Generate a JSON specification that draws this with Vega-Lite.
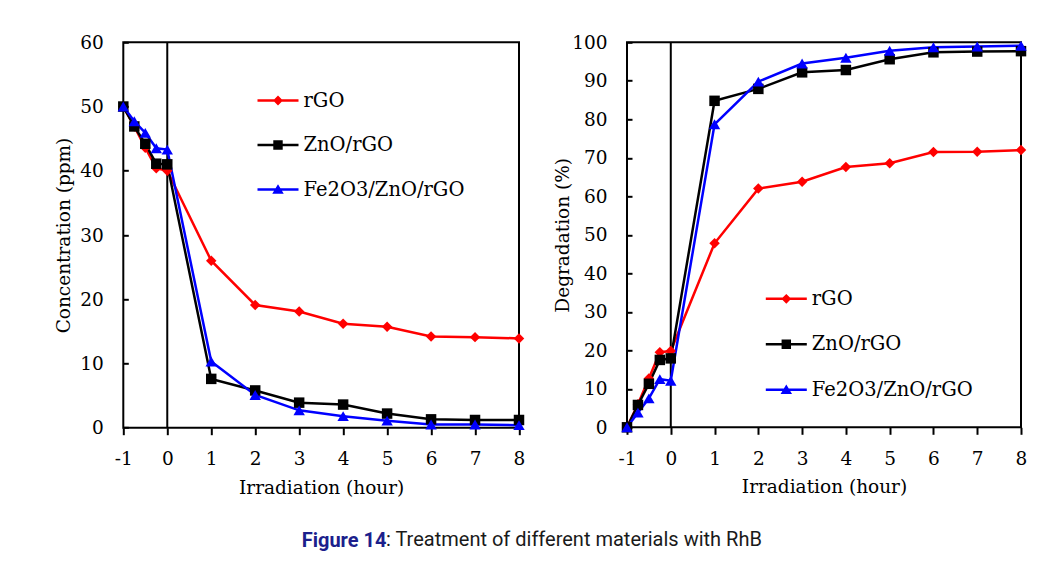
{
  "$schema": "https://vega.github.io/schema/vega-lite/v6.json",
  "autosize": {"type": "none"},
  "padding": {"left": 123.3, "top": 42.3, "right": 917.7, "bottom": 519.7},
  "background": "white",
  "bounds": "flush",
  "spacing": 107.7,
  "datasets": {
    "conc": [
      {"hour": -1, "material": "rGO", "value": 50},
      {"hour": -0.75, "material": "rGO", "value": 46.9},
      {"hour": -0.5, "material": "rGO", "value": 43.6},
      {"hour": -0.25, "material": "rGO", "value": 40.4},
      {"hour": 0, "material": "rGO", "value": 40.0},
      {"hour": 1, "material": "rGO", "value": 26.0},
      {"hour": 2, "material": "rGO", "value": 19.1},
      {"hour": 3, "material": "rGO", "value": 18.1},
      {"hour": 4, "material": "rGO", "value": 16.2},
      {"hour": 5, "material": "rGO", "value": 15.7},
      {"hour": 6, "material": "rGO", "value": 14.2},
      {"hour": 7, "material": "rGO", "value": 14.1},
      {"hour": 8, "material": "rGO", "value": 13.9},
      {"hour": -1, "material": "ZnO/rGO", "value": 50},
      {"hour": -0.75, "material": "ZnO/rGO", "value": 46.9},
      {"hour": -0.5, "material": "ZnO/rGO", "value": 44.2},
      {"hour": -0.25, "material": "ZnO/rGO", "value": 41.1},
      {"hour": 0, "material": "ZnO/rGO", "value": 41.0},
      {"hour": 1, "material": "ZnO/rGO", "value": 7.6},
      {"hour": 2, "material": "ZnO/rGO", "value": 5.8},
      {"hour": 3, "material": "ZnO/rGO", "value": 3.9},
      {"hour": 4, "material": "ZnO/rGO", "value": 3.6},
      {"hour": 5, "material": "ZnO/rGO", "value": 2.2},
      {"hour": 6, "material": "ZnO/rGO", "value": 1.3},
      {"hour": 7, "material": "ZnO/rGO", "value": 1.2},
      {"hour": 8, "material": "ZnO/rGO", "value": 1.2},
      {"hour": -1, "material": "Fe2O3/ZnO/rGO", "value": 50},
      {"hour": -0.75, "material": "Fe2O3/ZnO/rGO", "value": 47.7},
      {"hour": -0.5, "material": "Fe2O3/ZnO/rGO", "value": 45.9},
      {"hour": -0.25, "material": "Fe2O3/ZnO/rGO", "value": 43.5},
      {"hour": 0, "material": "Fe2O3/ZnO/rGO", "value": 43.3},
      {"hour": 1, "material": "Fe2O3/ZnO/rGO", "value": 10.3},
      {"hour": 2, "material": "Fe2O3/ZnO/rGO", "value": 5.1},
      {"hour": 3, "material": "Fe2O3/ZnO/rGO", "value": 2.7},
      {"hour": 4, "material": "Fe2O3/ZnO/rGO", "value": 1.8},
      {"hour": 5, "material": "Fe2O3/ZnO/rGO", "value": 1.1},
      {"hour": 6, "material": "Fe2O3/ZnO/rGO", "value": 0.5},
      {"hour": 7, "material": "Fe2O3/ZnO/rGO", "value": 0.5},
      {"hour": 8, "material": "Fe2O3/ZnO/rGO", "value": 0.4}
    ],
    "deg": [
      {"hour": -1, "material": "rGO", "value": 0},
      {"hour": -0.75, "material": "rGO", "value": 6.0},
      {"hour": -0.5, "material": "rGO", "value": 12.7},
      {"hour": -0.25, "material": "rGO", "value": 19.5},
      {"hour": 0, "material": "rGO", "value": 19.8},
      {"hour": 1, "material": "rGO", "value": 47.8},
      {"hour": 2, "material": "rGO", "value": 62.0},
      {"hour": 3, "material": "rGO", "value": 63.8},
      {"hour": 4, "material": "rGO", "value": 67.6},
      {"hour": 5, "material": "rGO", "value": 68.6},
      {"hour": 6, "material": "rGO", "value": 71.5},
      {"hour": 7, "material": "rGO", "value": 71.6},
      {"hour": 8, "material": "rGO", "value": 72.0},
      {"hour": -1, "material": "ZnO/rGO", "value": 0},
      {"hour": -0.75, "material": "ZnO/rGO", "value": 5.8},
      {"hour": -0.5, "material": "ZnO/rGO", "value": 11.3},
      {"hour": -0.25, "material": "ZnO/rGO", "value": 17.5},
      {"hour": 0, "material": "ZnO/rGO", "value": 17.9},
      {"hour": 1, "material": "ZnO/rGO", "value": 84.8},
      {"hour": 2, "material": "ZnO/rGO", "value": 87.9},
      {"hour": 3, "material": "ZnO/rGO", "value": 92.2},
      {"hour": 4, "material": "ZnO/rGO", "value": 92.8},
      {"hour": 5, "material": "ZnO/rGO", "value": 95.6},
      {"hour": 6, "material": "ZnO/rGO", "value": 97.4},
      {"hour": 7, "material": "ZnO/rGO", "value": 97.6},
      {"hour": 8, "material": "ZnO/rGO", "value": 97.7},
      {"hour": -1, "material": "Fe2O3/ZnO/rGO", "value": 0},
      {"hour": -0.75, "material": "Fe2O3/ZnO/rGO", "value": 3.8},
      {"hour": -0.5, "material": "Fe2O3/ZnO/rGO", "value": 7.5},
      {"hour": -0.25, "material": "Fe2O3/ZnO/rGO", "value": 12.5},
      {"hour": 0, "material": "Fe2O3/ZnO/rGO", "value": 12.1},
      {"hour": 1, "material": "Fe2O3/ZnO/rGO", "value": 78.7},
      {"hour": 2, "material": "Fe2O3/ZnO/rGO", "value": 89.8},
      {"hour": 3, "material": "Fe2O3/ZnO/rGO", "value": 94.5},
      {"hour": 4, "material": "Fe2O3/ZnO/rGO", "value": 96.0},
      {"hour": 5, "material": "Fe2O3/ZnO/rGO", "value": 97.8},
      {"hour": 6, "material": "Fe2O3/ZnO/rGO", "value": 98.7},
      {"hour": 7, "material": "Fe2O3/ZnO/rGO", "value": 98.9},
      {"hour": 8, "material": "Fe2O3/ZnO/rGO", "value": 99.1}
    ]
  },
  "resolve": {
    "scale": {"x": "independent", "y": "independent", "color": "independent", "shape": "independent"},
    "legend": {"color": "independent", "shape": "independent"}
  },
  "hconcat": [
    {
      "width": 395.7,
      "height": 385.4,
      "title": {"text": "Figure 14", "orient": "bottom", "anchor": "start", "frame": "group", "dx": 178.4, "offset": 34, "font": "Roboto", "fontSize": 20, "fontWeight": "bold", "color": "#1c1f8c"},
      "data": {"name": "conc"},
      "layer": [
        {
          "data": {"values": [{}]},
          "mark": {"type": "rule", "color": "#000000", "strokeWidth": 2},
          "encoding": {"x": {"datum": 0, "type": "quantitative", "scale": {"domain": [-1, 8], "nice": false, "zero": false}}}
        },
        {
          "encoding": {
            "x": {"field": "hour", "type": "quantitative", "scale": {"domain": [-1, 8], "nice": false, "zero": false},
                  "axis": {"title": "Irradiation (hour)", "values": [-1, 0, 1, 2, 3, 4, 5, 6, 7, 8], "labelExpr": "'' + datum.value", "labelOverlap": false}},
            "y": {"field": "value", "type": "quantitative", "scale": {"domain": [0, 60], "nice": false},
                  "axis": {"title": "Concentration (ppm)", "values": [0, 10, 20, 30, 40, 50, 60], "labelOverlap": false, "titlePadding": 6.5}}
          },
          "layer": [
            {
              "mark": {"type": "line", "strokeWidth": 2.5},
              "encoding": {
                "color": {"field": "material", "type": "nominal",
                          "scale": {"domain": ["rGO", "ZnO/rGO", "Fe2O3/ZnO/rGO"], "range": ["#ff0000", "#000000", "#0000ff"]},
                          "legend": {"orient": "none", "legendX": 134.2, "legendY": 37.7}}
              }
            },
            {
              "mark": {"type": "point", "filled": true, "opacity": 0},
              "encoding": {
                "color": {"field": "material", "type": "nominal",
                          "legend": {"orient": "none", "legendX": 134.2, "legendY": 37.7}},
                "shape": {"field": "material", "type": "nominal",
                          "scale": {"domain": ["rGO", "ZnO/rGO", "Fe2O3/ZnO/rGO"],
                                    "range": ["M-1,-0.061L1,-0.061L1,0.061L-1,0.061ZM0,-0.24L0.24,0L0,0.24L-0.24,0Z",
                                              "M-1,-0.061L1,-0.061L1,0.061L-1,0.061ZM-0.23,-0.23L0.23,-0.23L0.23,0.23L-0.23,0.23Z",
                                              "M-1,-0.061L1,-0.061L1,0.061L-1,0.061ZM0,-0.26L0.28,0.21L-0.28,0.21Z"]},
                          "legend": {"orient": "none", "legendX": 134.2, "legendY": 37.7}}
              }
            },
            {
              "transform": [{"filter": "datum.material === 'rGO'"}],
              "mark": {"type": "point", "shape": "diamond", "filled": true, "opacity": 1, "size": 110, "color": "#ff0000"},
              "encoding": {}
            },
            {
              "transform": [{"filter": "datum.material === 'ZnO/rGO'"}],
              "mark": {"type": "point", "shape": "square", "filled": true, "opacity": 1, "size": 110, "color": "#000000"},
              "encoding": {}
            },
            {
              "transform": [{"filter": "datum.material === 'Fe2O3/ZnO/rGO'"}],
              "mark": {"type": "point", "shape": "triangle-up", "filled": true, "opacity": 1, "size": 130, "color": "#0000ff"},
              "encoding": {}
            }
          ]
        }
      ]
    },
    {
      "width": 394,
      "height": 385,
      "title": {"text": ": Treatment of different materials with RhB", "orient": "bottom", "anchor": "start", "frame": "group", "dx": -241, "offset": 34, "font": "Roboto", "fontSize": 20, "fontWeight": "normal", "color": "#1a1a1a"},
      "data": {"name": "deg"},
      "layer": [
        {
          "data": {"values": [{}]},
          "mark": {"type": "rule", "color": "#000000", "strokeWidth": 2},
          "encoding": {"x": {"datum": 0, "type": "quantitative", "scale": {"domain": [-1, 8], "nice": false, "zero": false}}}
        },
        {
          "encoding": {
            "x": {"field": "hour", "type": "quantitative", "scale": {"domain": [-1, 8], "nice": false, "zero": false},
                  "axis": {"title": "Irradiation (hour)", "values": [-1, 0, 1, 2, 3, 4, 5, 6, 7, 8], "labelExpr": "'' + datum.value", "labelOverlap": false}},
            "y": {"field": "value", "type": "quantitative", "scale": {"domain": [0, 100], "nice": false},
                  "axis": {"title": "Degradation (%)", "values": [0, 10, 20, 30, 40, 50, 60, 70, 80, 90, 100], "labelOverlap": false, "titlePadding": -1}}
          },
          "layer": [
            {
              "mark": {"type": "line", "strokeWidth": 2.5},
              "encoding": {
                "color": {"field": "material", "type": "nominal",
                          "scale": {"domain": ["rGO", "ZnO/rGO", "Fe2O3/ZnO/rGO"], "range": ["#ff0000", "#000000", "#0000ff"]},
                          "legend": {"orient": "none", "legendX": 138.8, "legendY": 236, "rowPadding": 15.5}}
              }
            },
            {
              "mark": {"type": "point", "filled": true, "opacity": 0},
              "encoding": {
                "color": {"field": "material", "type": "nominal",
                          "legend": {"orient": "none", "legendX": 138.8, "legendY": 236, "rowPadding": 15.5}},
                "shape": {"field": "material", "type": "nominal",
                          "scale": {"domain": ["rGO", "ZnO/rGO", "Fe2O3/ZnO/rGO"],
                                    "range": ["M-1,-0.061L1,-0.061L1,0.061L-1,0.061ZM0,-0.24L0.24,0L0,0.24L-0.24,0Z",
                                              "M-1,-0.061L1,-0.061L1,0.061L-1,0.061ZM-0.23,-0.23L0.23,-0.23L0.23,0.23L-0.23,0.23Z",
                                              "M-1,-0.061L1,-0.061L1,0.061L-1,0.061ZM0,-0.26L0.28,0.21L-0.28,0.21Z"]},
                          "legend": {"orient": "none", "legendX": 138.8, "legendY": 236, "rowPadding": 15.5}}
              }
            },
            {
              "transform": [{"filter": "datum.material === 'rGO'"}],
              "mark": {"type": "point", "shape": "diamond", "filled": true, "opacity": 1, "size": 110, "color": "#ff0000"},
              "encoding": {}
            },
            {
              "transform": [{"filter": "datum.material === 'ZnO/rGO'"}],
              "mark": {"type": "point", "shape": "square", "filled": true, "opacity": 1, "size": 110, "color": "#000000"},
              "encoding": {}
            },
            {
              "transform": [{"filter": "datum.material === 'Fe2O3/ZnO/rGO'"}],
              "mark": {"type": "point", "shape": "triangle-up", "filled": true, "opacity": 1, "size": 130, "color": "#0000ff"},
              "encoding": {}
            }
          ]
        }
      ]
    }
  ],
  "config": {
    "view": {"stroke": "#000000", "strokeWidth": 2},
    "axis": {
      "grid": false, "domain": false,
      "labelFont": "DejaVu Serif", "labelFontSize": 18.5, "labelColor": "#000000",
      "labelFlush": false, "labelOverlap": false,
      "titleFont": "DejaVu Serif", "titleFontSize": 18.5, "titleFontWeight": "normal", "titleColor": "#000000",
      "tickColor": "#000000", "tickWidth": 2
    },
    "axisX": {"tickSize": 7, "labelPadding": 15, "titlePadding": 10},
    "axisY": {"tickSize": -5, "labelPadding": 25, "titlePadding": 12},
    "legend": {
      "title": null,
      "padding": 0,
      "rowPadding": 14.5,
      "symbolSize": 1681,
      "symbolOpacity": 1,
      "symbolStrokeWidth": 0,
      "labelFont": "DejaVu Serif",
      "labelFontSize": 19.5,
      "labelColor": "#000000",
      "labelOffset": 5,
      "labelLimit": 0
    }
  }
}
